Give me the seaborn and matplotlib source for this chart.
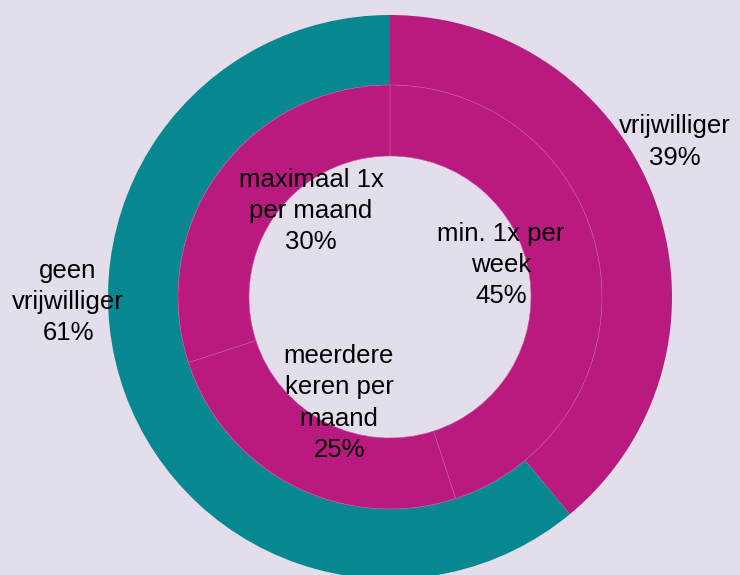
import matplotlib
matplotlib.use("Agg")
import matplotlib.pyplot as plt
import seaborn as sns

# ---- data ----
outer_labels = ["vrijwilliger", "geen\nvrijwilliger"]
outer_values = [39, 61]
inner_labels = ["min. 1x per\nweek", "meerdere\nkeren per\nmaand", "maximaal 1x\nper maand"]
inner_values = [45, 25, 30]

# ---- style ----
BG = "#E4DEEA"
MAGENTA = "#B91A80"
TEAL = "#078891"
SEP = "#CC58A2"

sns.set_theme(style="white")
plt.rcParams["font.family"] = ["Liberation Sans", "DejaVu Sans"]

W, H = 740, 575
CX, CY, R = 390, 297, 282  # pixel centre and outer radius
R_MID = 212 / R
R_HOLE = 141 / R

fig = plt.figure(figsize=(W / 100, H / 100), dpi=100, facecolor=BG)
ax = fig.add_axes([0, 0, 1, 1])
ax.set_facecolor(BG)

ax.pie(outer_values, colors=[MAGENTA, TEAL], startangle=90, counterclock=False,
       radius=1.0, wedgeprops=dict(width=1.0 - R_MID, linewidth=0))
ax.pie(inner_values, colors=[MAGENTA] * 3, startangle=90, counterclock=False,
       radius=R_MID, wedgeprops=dict(width=R_MID - R_HOLE, edgecolor=SEP, linewidth=0.4))

ax.set_xlim(-CX / R, (W - CX) / R)
ax.set_ylim(-(H - CY) / R, CY / R)
ax.set_aspect("equal")
ax.axis("off")

def px(x, y):
    return (x - CX) / R, (CY - y) / R

outer_pos = [(675, 142), (68, 302)]
inner_pos = [(501, 265), (339, 403), (311, 211)]

fs = 18.5
for lab, v, p in zip(outer_labels, outer_values, outer_pos):
    ax.text(*px(*p), f"{lab}\n{v}%", ha="center", va="center", multialignment="center",
            fontsize=fs, color="black", linespacing=1.38)
for lab, v, p in zip(inner_labels, inner_values, inner_pos):
    ax.text(*px(*p), f"{lab}\n{v}%", ha="center", va="center", multialignment="center",
            fontsize=fs, color="black", linespacing=1.38)

fig.savefig("out.png", dpi=100, facecolor=BG)
